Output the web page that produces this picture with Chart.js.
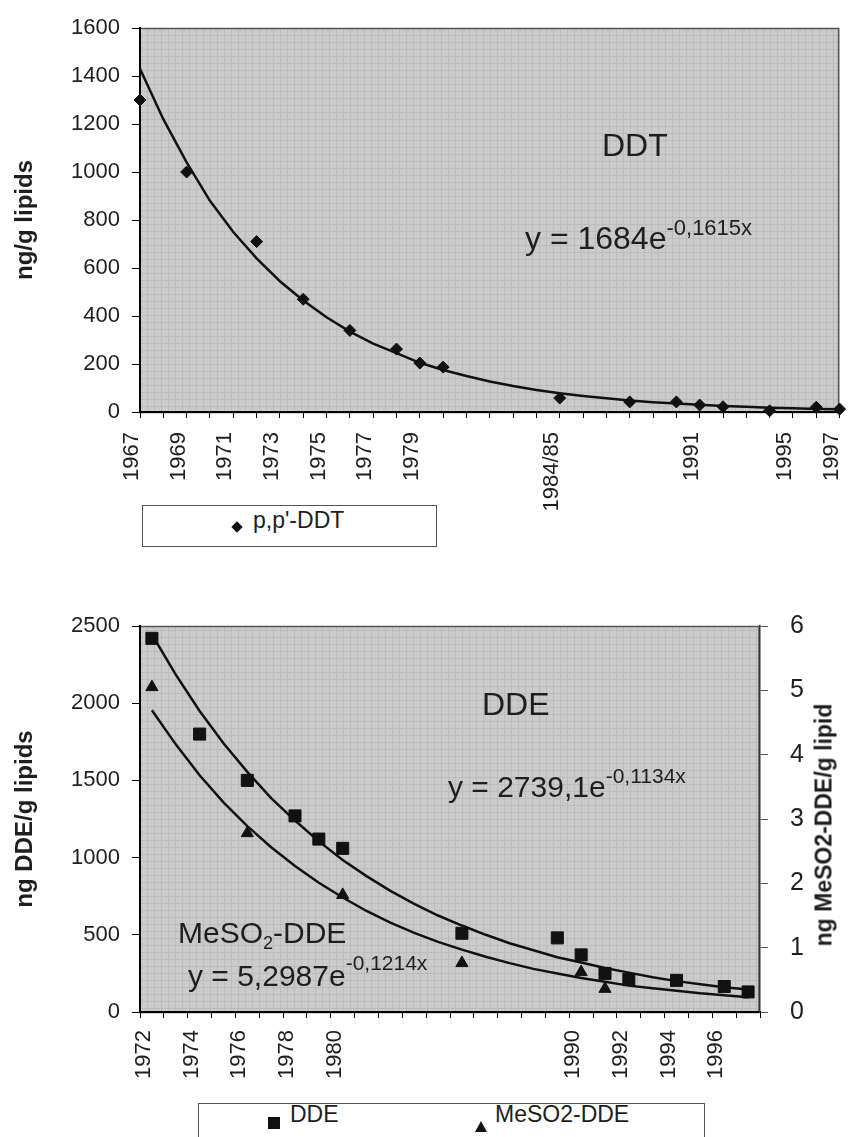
<!DOCTYPE html>
<html>
<head>
<meta charset="utf-8">
<title>DDT and DDE time trends</title>
<script src="https://cdn.jsdelivr.net/npm/chart.js@4.4.1/dist/chart.umd.min.js"></script>
<style>
  body {
    margin: 0; width: 861px; height: 1137px; overflow: hidden; position: relative;
    background: #fff; color: #1e1e1e;
    font-family: "Liberation Sans", Arial, sans-serif;
  }
  canvas { position: absolute; left: 0; }
  #ddtChart { top: 0; }
  #ddeChart { top: 560px; }
  .txt { position: absolute; white-space: nowrap; line-height: 1; }
  .sup, .sub { position: relative; }
  .legend { position: absolute; box-sizing: border-box; border: 1px solid #555; background: #fff; }
  .vtitle {
    position: absolute; white-space: nowrap; font-weight: bold; line-height: 1;
    transform: translate(-50%, -50%) rotate(-90deg);
  }
  .diamond { position: absolute; width: 8px; height: 8px; background: #111; transform: rotate(45deg); }
  .square { position: absolute; width: 12px; height: 12px; background: #111; }
  .triangle {
    position: absolute; width: 0; height: 0;
    border-left: 6px solid transparent; border-right: 6px solid transparent; border-bottom: 11px solid #111;
  }
</style>
</head>
<body>
<canvas id="ddtChart" width="880" height="530"></canvas>
<canvas id="ddeChart" width="861" height="540"></canvas>

<!-- texts inside the DDT plot -->
<div class="txt" style="left:602px;top:129px;font-size:32px">DDT</div>
<div class="txt" style="left:525px;top:222px;font-size:32px">y = 1684e<span class="sup" style="font-size:22px;top:-14px">-0,1615x</span></div>

<!-- DDT legend -->
<div class="legend" style="left:142px;top:505px;width:295px;height:42px"></div>
<div class="diamond" style="left:233px;top:523px"></div>
<div class="txt" style="left:253px;top:509px;font-size:23px">p,p'-DDT</div>

<!-- texts inside the DDE plot -->
<div class="txt" style="left:482px;top:688px;font-size:32px">DDE</div>
<div class="txt" style="left:448px;top:772px;font-size:30px">y = 2739,1e<span class="sup" style="font-size:21px;top:-14px">-0,1134x</span></div>
<div class="txt" style="left:178px;top:918px;font-size:30px">MeSO<span class="sub" style="font-size:18px;top:6px">2</span>-DDE</div>
<div class="txt" style="left:188px;top:961px;font-size:30px">y = 5,2987e<span class="sup" style="font-size:21px;top:-16px">-0,1214x</span></div>

<!-- right axis title, reads bottom to top like the left one -->
<div class="vtitle" style="left:824px;top:825px;font-size:23px">ng MeSO2-DDE/g lipid</div>

<!-- DDE legend -->
<div class="legend" style="left:198px;top:1103px;width:507px;height:60px"></div>
<div class="square" style="left:268px;top:1117px"></div>
<div class="txt" style="left:290px;top:1103px;font-size:23px">DDE</div>
<div class="triangle" style="left:475px;top:1121px"></div>
<div class="txt" style="left:495px;top:1103px;font-size:23px">MeSO2-DDE</div>

<script>
// DDT, one category per year 1967-1997 (blank label = year not labelled)
const ddtLabels = ['1967', '', '1969', '', '1971', '', '1973', '', '1975', '', '1977', '', '1979',
  '', '', '', '', '', '1984/85', '', '', '', '', '', '1991', '', '', '', '1995', '', '1997'];
const ddtValues = [1300, null, 1000, null, null, 710, null, 470, null, 340, null, 262, 204, 187,
  null, null, null, null, 58, null, null, 42, null, 42, 29, 22, null, 5, null, 20, 12];
// exponential trend as drawn on the plot
const ddtTrend = [1430, 1220, 1040, 880, 750, 640, 545, 465, 395, 335, 285, 245, 205, 175, 150,
  127, 108, 92, 78, 67, 57, 48, 41, 35, 30, 25, 22, 18, 16, 13, 11];

// DDE / MeSO2-DDE, one category per year 1972-1997
const ddeLabels = ['1972', '', '1974', '', '1976', '', '1978', '', '1980',
  '', '', '', '', '', '', '', '', '',
  '1990', '', '1992', '', '1994', '', '1996', ''];
const ddeValues = [2420, null, 1800, null, 1500, null, 1270, 1120, 1060,
  null, null, null, null, 510, null, null, null, 480,
  370, 250, 210, null, 205, null, 165, 130];
const mesoValues = [5.05, null, null, null, 2.78, null, null, null, 1.82,
  null, null, null, null, 0.76, null, null, null, null,
  0.62, 0.36, null, null, null, null, null, null];
const ddeTrend = [2445, 2185, 1950, 1740, 1555, 1385, 1240, 1105, 985, 880, 785, 700, 625,
  560, 500, 445, 400, 355, 320, 285, 255, 225, 200, 180, 160, 145];
const mesoTrend = [4.69, 4.16, 3.68, 3.26, 2.89, 2.56, 2.27, 2.01, 1.78, 1.57, 1.39, 1.23, 1.09,
  0.97, 0.86, 0.76, 0.67, 0.60, 0.53, 0.47, 0.41, 0.37, 0.33, 0.29, 0.26, 0.23];

Chart.defaults.font.family = '"Liberation Sans", Arial, sans-serif';
Chart.defaults.color = '#1e1e1e';

// small tile for the grey gridded plot background
const tile = document.createElement('canvas');
tile.width = 7;
tile.height = 7;
const tctx = tile.getContext('2d');
tctx.fillStyle = '#cbcbcb';
tctx.fillRect(0, 0, 7, 7);
tctx.fillStyle = '#bcbcbc';
tctx.fillRect(0, 0, 7, 1);
tctx.fillRect(0, 0, 1, 7);

const plotBackground = {
  id: 'plotBackground',
  beforeDraw(chart) {
    const { ctx, chartArea: a } = chart;
    ctx.save();
    ctx.fillStyle = ctx.createPattern(tile, 'repeat');
    ctx.fillRect(a.left, a.top, a.right - a.left, a.bottom - a.top);
    ctx.strokeStyle = '#555';
    ctx.lineWidth = 1.5;
    ctx.strokeRect(a.left, a.top + 0.5, a.right - a.left - 1, a.bottom - a.top);
    ctx.restore();
  }
};

const tickFont = { size: 22 };
const titleFont = { size: 24, weight: 'bold' };
// plain numbers, no thousands separator
const plainNumber = (v) => String(v);

function xAxis(height, padding, offset) {
  return {
    offset: offset,
    grid: { drawOnChartArea: false, tickLength: 6, tickColor: '#000', offset: offset },
    border: { color: '#000', width: 2 },
    ticks: { autoSkip: false, maxRotation: 90, minRotation: 90, padding: padding, labelOffset: -8, font: tickFont },
    afterFit(scale) { scale.height = height; }
  };
}

function createDdtChart() {
  new Chart(document.getElementById('ddtChart'), {
    type: 'line',
    data: {
      labels: ddtLabels,
      datasets: [
        {
          label: "p,p'-DDT",
          data: ddtValues,
          showLine: false,
          pointStyle: 'rectRot',
          pointRadius: 6,
          backgroundColor: '#111',
          borderColor: '#111',
          clip: false
        },
        {
          label: 'trend',
          data: ddtTrend,
          borderColor: '#111',
          borderWidth: 2.5,
          pointRadius: 0,
          tension: 0
        }
      ]
    },
    options: {
      responsive: false,
      animation: false,
      layout: { padding: { top: 28, right: 20 } },
      plugins: { legend: { display: false }, tooltip: { enabled: false } },
      scales: {
        x: xAxis(118, 14, false),
        y: {
          min: 0,
          max: 1600,
          ticks: { stepSize: 200, padding: 12, font: tickFont, callback: plainNumber },
          grid: { drawOnChartArea: false, tickLength: 8, tickColor: '#000' },
          border: { color: '#000', width: 2 },
          title: { display: true, text: 'ng/g lipids', font: titleFont, padding: { top: 11, bottom: 0 } },
          afterFit(scale) { scale.width = 140; }
        }
      }
    },
    plugins: [plotBackground]
  });
}

function createDdeChart() {
  new Chart(document.getElementById('ddeChart'), {
    type: 'line',
    data: {
      labels: ddeLabels,
      datasets: [
        {
          label: 'DDE',
          data: ddeValues,
          showLine: false,
          pointStyle: 'rect',
          pointRadius: 8.5,
          backgroundColor: '#111',
          borderColor: '#111',
          yAxisID: 'y',
          clip: false
        },
        {
          label: 'MeSO2-DDE',
          data: mesoValues,
          showLine: false,
          pointStyle: 'triangle',
          pointRadius: 7,
          backgroundColor: '#111',
          borderColor: '#111',
          yAxisID: 'y1',
          clip: false
        },
        {
          label: 'DDE trend',
          data: ddeTrend,
          borderColor: '#111',
          borderWidth: 2.5,
          pointRadius: 0,
          tension: 0,
          yAxisID: 'y'
        },
        {
          label: 'MeSO2-DDE trend',
          data: mesoTrend,
          borderColor: '#111',
          borderWidth: 2.5,
          pointRadius: 0,
          tension: 0,
          yAxisID: 'y1'
        }
      ]
    },
    options: {
      responsive: false,
      animation: false,
      layout: { padding: { top: 66, right: 0 } },
      plugins: { legend: { display: false }, tooltip: { enabled: false } },
      scales: {
        x: xAxis(88, 12, true),
        y: {
          position: 'left',
          min: 0,
          max: 2500,
          ticks: { stepSize: 500, padding: 12, font: tickFont, callback: plainNumber },
          grid: { drawOnChartArea: false, tickLength: 8, tickColor: '#000' },
          border: { color: '#000', width: 2 },
          title: { display: true, text: 'ng DDE/g lipids', font: titleFont, padding: { top: 11, bottom: 0 } },
          afterFit(scale) { scale.width = 140; }
        },
        y1: {
          position: 'right',
          min: 0,
          max: 6,
          ticks: { stepSize: 1, padding: 22, font: { size: 25 }, callback: plainNumber },
          grid: { drawOnChartArea: false, tickLength: 8, tickColor: '#555' },
          border: { color: '#333', width: 1.5 },
          afterFit(scale) { scale.width = 101; }
        }
      }
    },
    plugins: [plotBackground]
  });
}

createDdtChart();
createDdeChart();
</script>
</body>
</html>
